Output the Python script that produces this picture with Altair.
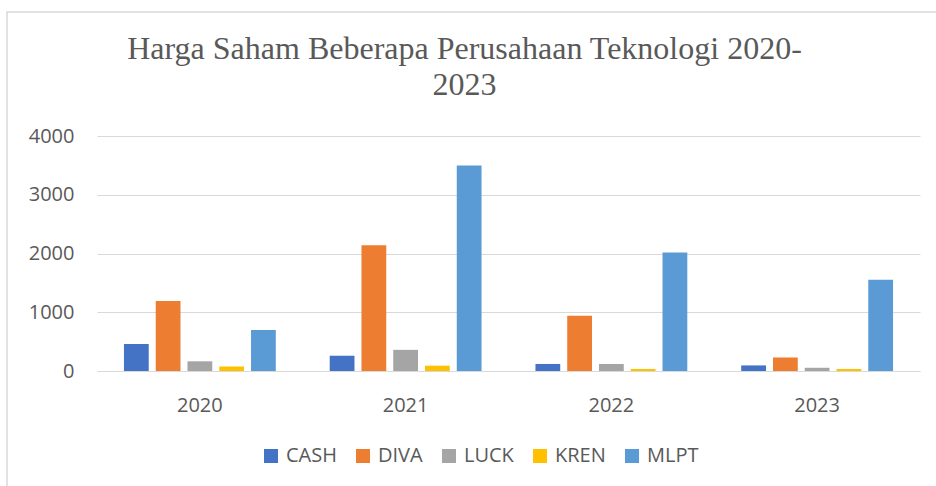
import altair as alt
import pandas as pd

years = ["2020", "2021", "2022", "2023"]
series = ["CASH", "DIVA", "LUCK", "KREN", "MLPT"]
colors = ["#4472C4", "#ED7D31", "#A5A5A5", "#FFC000", "#5B9BD5"]
cash = [460, 260, 120, 95]
diva = [1190, 2140, 940, 230]
luck = [165, 360, 120, 55]
kren = [75, 90, 35, 35]
mlpt = [700, 3500, 2015, 1555]
y_ticks = [0, 1000, 2000, 3000, 4000]

rows = []
for s, vals in zip(series, [cash, diva, luck, kren, mlpt]):
    for yr, v in zip(years, vals):
        rows.append({"Tahun": yr, "Perusahaan": s, "Harga": v})
df = pd.DataFrame(rows)

PLOT_L, PLOT_T, PLOT_W, PLOT_H = 97, 136, 823, 235

bars = alt.Chart(df).mark_bar().encode(
    x=alt.X("Tahun:N", sort=years,
            scale=alt.Scale(paddingInner=0.262, paddingOuter=0.131),
            axis=alt.Axis(title=None, labelAngle=0, ticks=False, labelPadding=24,
                          labelFontSize=20, labelColor="#595959", labelFont="Open Sans",
                          domainColor="#d9d9d9", domainWidth=1.2, grid=False)),
    xOffset=alt.XOffset("Perusahaan:N", sort=series,
                        scale=alt.Scale(paddingInner=0.22, paddingOuter=0)),
    y=alt.Y("Harga:Q", scale=alt.Scale(domain=[0, 4000], nice=False),
            axis=alt.Axis(title=None, values=y_ticks, format="d", ticks=False, domain=False,
                          labelPadding=23, labelFontSize=20, labelColor="#595959",
                          labelFont="Open Sans", gridColor="#d9d9d9", gridWidth=1.2)),
    color=alt.Color("Perusahaan:N", sort=series,
                    scale=alt.Scale(domain=series, range=colors),
                    legend=alt.Legend(title=None, orient="none", direction="horizontal",
                                      legendX=164, legendY=310, padding=0,
                                      symbolType="square", symbolSize=196,
                                      symbolStrokeWidth=0, labelFontSize=20,
                                      labelFont="Open Sans", labelColor="#595959",
                                      labelOffset=5, columnPadding=16)),
)

border = alt.Chart(alt.Data(values=[{"a": 1}])).mark_rect(
    fill=None, stroke="#d9d9d9", strokeWidth=1.5
).encode(
    x=alt.value(7 - PLOT_L), x2=alt.value(960 - PLOT_L),
    y=alt.value(12 - PLOT_T), y2=alt.value(520 - PLOT_T),
)

chart = alt.layer(border, bars).properties(
    width=PLOT_W, height=PLOT_H,
    background="white",
    autosize=alt.AutoSizeParams(type="none"),
    padding={"left": PLOT_L, "top": PLOT_T, "right": 936 - PLOT_L - PLOT_W,
             "bottom": 486 - PLOT_T - PLOT_H},
    title=alt.TitleParams(
        text=["Harga Saham Beberapa Perusahaan Teknologi 2020-", "2023"],
        font="Liberation Serif", fontSize=32, fontWeight="normal", color="#595959",
        lineHeight=36, anchor="middle", dx=-44, offset=-91,
    ),
).configure_view(stroke=None)

chart.save("out.html", embed_options={"renderer": "svg", "actions": False})
